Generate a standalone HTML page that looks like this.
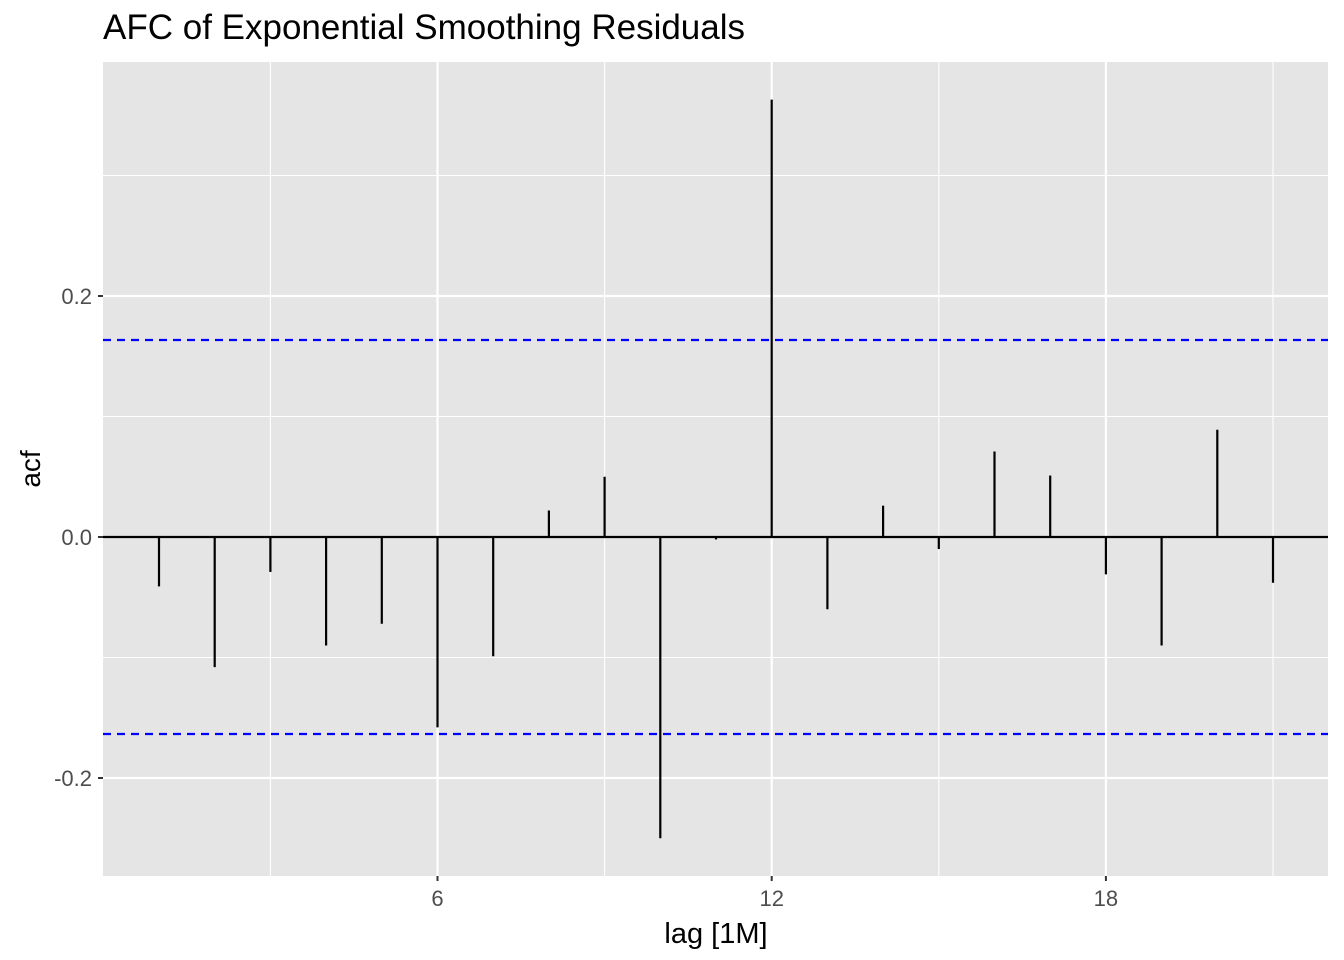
<!DOCTYPE html>
<html><head><meta charset="utf-8"><style>
body{margin:0;background:#fff;}
svg{display:block;font-family:"Liberation Sans",Arial,sans-serif;}
</style></head><body>
<svg id="chart" width="1344" height="960" xmlns="http://www.w3.org/2000/svg">
<text x="103" y="39" font-size="35" fill="#000">AFC of Exponential Smoothing Residuals</text>
<rect x="103" y="62" width="1225" height="814" fill="#e5e5e5"/>
<g id="grid"></g>
<g id="marks"></g>
<g id="axes"></g>
<text x="716" y="943" font-size="29" text-anchor="middle" fill="#000">lag [1M]</text>
<text transform="translate(40,469) rotate(-90)" font-size="28" text-anchor="middle" fill="#000">acf</text>
</svg>
<script>
const lags = [1,2,3,4,5,6,7,8,9,10,11,12,13,14,15,16,17,18,19,20,21];
const acfValues = [-0.041,-0.108,-0.029,-0.090,-0.072,-0.158,-0.099,0.022,0.050,-0.250,-0.002,0.363,-0.060,0.026,-0.010,0.071,0.051,-0.031,-0.090,0.089,-0.038];
const ciBound = 0.1635;
const xTicks = [6,12,18];
const xMinor = [3,9,15,21];
const yTicks = [-0.2,0.0,0.2];
const yTickLabels = ["-0.2","0.0","0.2"];
const yMinor = [-0.1,0.1,0.3];

const X0=103,X1=1328,Y0=62,Y1=876;
const x = l => 159 + (l-1)*55.7;
const y = v => 537 - v*1205;
const NS="http://www.w3.org/2000/svg";
function mk(tag, attrs, parent){const e=document.createElementNS(NS,tag);for(const k in attrs)e.setAttribute(k,attrs[k]);parent.appendChild(e);return e;}
const grid=document.getElementById('grid'), marks=document.getElementById('marks'), axes=document.getElementById('axes');

yMinor.forEach(v=>{const e=mk('line',{x1:X0,x2:X1,y1:y(v),y2:y(v),stroke:'#fff','stroke-width':1.1},grid);

});
xMinor.forEach(v=>{const e=mk('line',{x1:x(v),x2:x(v),y1:Y0,y2:Y1,stroke:'#fff','stroke-width':1.1},grid);

});
yTicks.forEach((v,i)=>{const e=mk('line',{x1:X0,x2:X1,y1:y(v),y2:y(v),stroke:'#fff','stroke-width':2.2},grid);


const t=mk('line',{x1:X0-5,x2:X0,y1:y(v),y2:y(v),stroke:'#333','stroke-width':2},axes);


const l=mk('text',{x:X0-11,y:y(v)+8,'font-size':22,'text-anchor':'end',fill:'#4d4d4d'},axes);l.textContent=yTickLabels[i];

});
xTicks.forEach(v=>{const e=mk('line',{x1:x(v),x2:x(v),y1:Y0,y2:Y1,stroke:'#fff','stroke-width':2.2},grid);


const t=mk('line',{x1:x(v),x2:x(v),y1:Y1,y2:Y1+5,stroke:'#333','stroke-width':2},axes);


const l=mk('text',{x:x(v),y:Y1+30,'font-size':22,'text-anchor':'middle',fill:'#4d4d4d'},axes);l.textContent=v;

});

const zl=mk('line',{x1:X0,x2:X1,y1:y(0),y2:y(0),stroke:'#000','stroke-width':2.2},marks);


[ciBound,-ciBound].forEach(v=>{const e=mk('line',{x1:X0,x2:X1,y1:y(v),y2:y(v),stroke:'#0000ff','stroke-width':2.2,'stroke-dasharray':'8,6'},marks);

});
lags.forEach((l,i)=>{const e=mk('line',{x1:x(l),x2:x(l),y1:y(0),y2:y(acfValues[i]),stroke:'#000','stroke-width':2.2},marks);

});
</script>
</body></html>
